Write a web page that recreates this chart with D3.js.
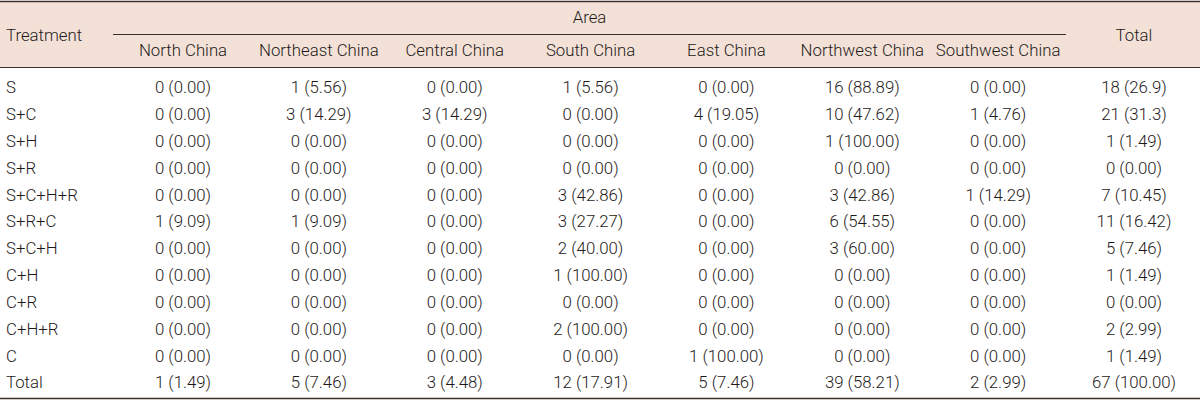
<!DOCTYPE html>
<meta charset="utf-8">
<style>
body { margin: 0; background: #fff; }
svg { display: block; }
text {
    font-family: Roboto, "Liberation Sans", Arial, sans-serif;
    font-weight: 300;
    font-size: 16.8px;
    fill: #1e1a1a;
}
.rule { stroke: #3b302c; }
</style>
<svg width="1200" height="401"></svg>
<script src="https://d3js.org/d3.v7.min.js"></script>
<script>
// table: treatment x area, counts with percentages
var areas = ["North China", "Northeast China", "Central China", "South China",
             "East China", "Northwest China", "Southwest China"];
var treatments = ["S", "S+C", "S+H", "S+R", "S+C+H+R", "S+R+C", "S+C+H",
                  "C+H", "C+R", "C+H+R", "C", "Total"];

var northChina     = ["0 (0.00)", "0 (0.00)", "0 (0.00)", "0 (0.00)", "0 (0.00)", "1 (9.09)", "0 (0.00)", "0 (0.00)", "0 (0.00)", "0 (0.00)", "0 (0.00)", "1 (1.49)"];
var northeastChina = ["1 (5.56)", "3 (14.29)", "0 (0.00)", "0 (0.00)", "0 (0.00)", "1 (9.09)", "0 (0.00)", "0 (0.00)", "0 (0.00)", "0 (0.00)", "0 (0.00)", "5 (7.46)"];
var centralChina   = ["0 (0.00)", "3 (14.29)", "0 (0.00)", "0 (0.00)", "0 (0.00)", "0 (0.00)", "0 (0.00)", "0 (0.00)", "0 (0.00)", "0 (0.00)", "0 (0.00)", "3 (4.48)"];
var southChina     = ["1 (5.56)", "0 (0.00)", "0 (0.00)", "0 (0.00)", "3 (42.86)", "3 (27.27)", "2 (40.00)", "1 (100.00)", "0 (0.00)", "2 (100.00)", "0 (0.00)", "12 (17.91)"];
var eastChina      = ["0 (0.00)", "4 (19.05)", "0 (0.00)", "0 (0.00)", "0 (0.00)", "0 (0.00)", "0 (0.00)", "0 (0.00)", "0 (0.00)", "0 (0.00)", "1 (100.00)", "5 (7.46)"];
var northwestChina = ["16 (88.89)", "10 (47.62)", "1 (100.00)", "0 (0.00)", "3 (42.86)", "6 (54.55)", "3 (60.00)", "0 (0.00)", "0 (0.00)", "0 (0.00)", "0 (0.00)", "39 (58.21)"];
var southwestChina = ["0 (0.00)", "1 (4.76)", "0 (0.00)", "0 (0.00)", "1 (14.29)", "0 (0.00)", "0 (0.00)", "0 (0.00)", "0 (0.00)", "0 (0.00)", "0 (0.00)", "2 (2.99)"];
var totals         = ["18 (26.9)", "21 (31.3)", "1 (1.49)", "0 (0.00)", "7 (10.45)", "11 (16.42)", "5 (7.46)", "1 (1.49)", "0 (0.00)", "2 (2.99)", "1 (1.49)", "67 (100.00)"];

var columns = areas.concat(["Total"]);
var colValues = [northChina, northeastChina, centralChina, southChina,
                 eastChina, northwestChina, southwestChina, totals];

var svg = d3.select("svg");
var width = 1200;

var xScale = d3.scalePoint()
    .domain(columns)
    .range([183, 1134]);

var yScale = d3.scaleBand()
    .domain(treatments)
    .range([74, 396]);

// header band
svg.append("rect")
    .attr("x", 0).attr("y", 1)
    .attr("width", width).attr("height", 67)
    .attr("fill", "#f3e1d7");

svg.append("line").attr("class", "rule")
    .attr("x1", 0).attr("x2", width).attr("y1", 1.5).attr("y2", 1.5)
    .attr("stroke-width", 1.5);
svg.append("line").attr("class", "rule")
    .attr("x1", 0).attr("x2", width).attr("y1", 67.5).attr("y2", 67.5)
    .attr("stroke-width", 1);
svg.append("line").attr("class", "rule")
    .attr("x1", 113).attr("x2", 1066).attr("y1", 34.5).attr("y2", 34.5)
    .attr("stroke-width", 1);
svg.append("line").attr("class", "rule")
    .attr("x1", 0).attr("x2", width).attr("y1", 398.5).attr("y2", 398.5)
    .attr("stroke-width", 1.5);

svg.append("text")
    .attr("x", 6).attr("y", 35).attr("dy", "0.35em")
    .text("Treatment");
svg.append("text")
    .attr("x", (113 + 1066) / 2).attr("y", 17).attr("dy", "0.35em")
    .style("text-anchor", "middle")
    .text("Area");
svg.append("text")
    .attr("x", xScale("Total")).attr("y", 35).attr("dy", "0.35em")
    .style("text-anchor", "middle")
    .text("Total");

svg.append("g").selectAll("text")
    .data(areas)
    .enter().append("text")
        .attr("x", function(d) { return xScale(d); })
        .attr("y", 50).attr("dy", "0.35em")
        .style("text-anchor", "middle")
        .text(function(d) { return d; });

// body
var rowG = svg.append("g").selectAll("g")
    .data(treatments)
    .enter().append("g")
        .attr("transform", function(d) {
            return "translate(0," + (yScale(d) + yScale.bandwidth() / 2) + ")";
        });

rowG.append("text")
    .attr("x", 6).attr("dy", "0.35em")
    .text(function(d) { return d; });

rowG.selectAll("text.cell")
    .data(function(d, i) {
        return columns.map(function(c, j) { return {col: c, v: colValues[j][i]}; });
    })
    .enter().append("text")
        .attr("class", "cell")
        .attr("x", function(d) { return xScale(d.col); })
        .attr("dy", "0.35em")
        .style("text-anchor", "middle")
        .text(function(d) { return d.v; });
</script>
